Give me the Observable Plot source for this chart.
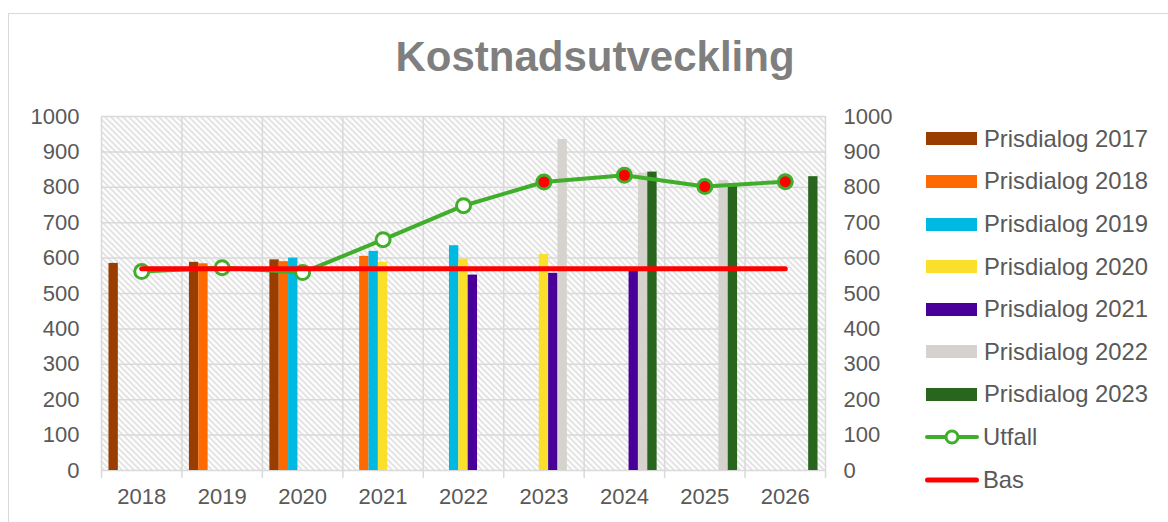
<!DOCTYPE html>
<html>
<head>
<meta charset="utf-8">
<script src="https://cdn.jsdelivr.net/npm/d3@7"></script>
<script src="https://cdn.jsdelivr.net/npm/@observablehq/plot@0.6"></script>
<style>
  body { margin: 0; background: #fff; font-family: "Liberation Sans", Arial, sans-serif; }
  #wrap { position: relative; width: 1168px; height: 522px; overflow: hidden; background: #fff; }
  #border { position: absolute; left: 8px; top: 13px; width: 1400px; height: 800px; border: 1.5px solid #d9d9d9; box-sizing: border-box; }
  #title { position: absolute; left: 0; top: 36px; width: 1190px; text-align: center; font-weight: bold; font-size: 42px; line-height: 42px; color: #7f7f7f; }
  #chart { position: absolute; left: 0; top: 0; }
  .leg { position: absolute; left: 926px; height: 26px; display: flex; align-items: center; font-size: 23.8px; color: #595959; white-space: nowrap; }
  .leg .sw { width: 51px; height: 13px; margin-right: 7px; }
  .leg svg { margin-right: 4px; }
</style>
</head>
<body>
<div id="wrap">
  <div id="border"></div>
  <div id="title">Kostnadsutveckling</div>
  <div id="chart"></div>
  <div id="legend"></div>
</div>
<script>
// ---- data ----
const years = [2018, 2019, 2020, 2021, 2022, 2023, 2024, 2025, 2026];
const seriesNames = ["Prisdialog 2017", "Prisdialog 2018", "Prisdialog 2019", "Prisdialog 2020",
                     "Prisdialog 2021", "Prisdialog 2022", "Prisdialog 2023"];
const seriesColors = ["#993d00", "#ff6a00", "#00b9e2", "#fbe02b", "#480099", "#d6d2cd", "#28661e"];
const p2017 = [585, 588, 595, null, null, null, null, null, null];
const p2018 = [null, 584, 590, 605, null, null, null, null, null];
const p2019 = [null, null, 600, 619, 635, null, null, null, null];
const p2020 = [null, null, null, 588, 597, 610, null, null, null];
const p2021 = [null, null, null, null, 552, 557, 565, null, null];
const p2022 = [null, null, null, null, null, 935, 840, 819, null];
const p2023 = [null, null, null, null, null, null, 843, 803, 830];
const prisdialog = [p2017, p2018, p2019, p2020, p2021, p2022, p2023];
const utfall = [562, 573, 559, 652, 748, 815, 834, 802, 816];
const utfallForecast = [false, false, false, false, false, true, true, true, true];
const bas = [570, 570, 570, 570, 570, 570, 570, 570, 570];
const yTicks = [0, 100, 200, 300, 400, 500, 600, 700, 800, 900, 1000];

// ---- derived tables ----
const boundaries = [years[0] - 0.5, ...years.map(y => y + 0.5)];
const nSlots = seriesNames.length;
const outerPad = 0.8;
const step = 1 / (nSlots + 2 * outerPad);
const bars = [];
prisdialog.forEach((vals, i) => vals.forEach((v, j) => {
  if (v != null) bars.push({year: years[j], series: seriesNames[i], slot: i, value: v, color: seriesColors[i]});
}));
const utfallRows = years.map((y, i) => ({year: y, value: utfall[i], forecast: utfallForecast[i]}));
const basRows = years.map((y, i) => ({year: y, value: bas[i]}));

const green = "#41ae2b";
const grid = "#d9d9d9";

const plot = Plot.plot({
  width: 1168,
  height: 522,
  marginLeft: 101,
  marginRight: 343,
  marginTop: 116,
  marginBottom: 52,
  x: {domain: [years[0] - 0.5, years[years.length - 1] + 0.5]},
  y: {domain: [0, 1000]},
  color: {type: "identity"},
  style: {fontFamily: "'Liberation Sans', Arial, sans-serif", fontSize: "22px", color: "#595959", background: "transparent", overflow: "visible"},
  marks: [
    Plot.frame({fill: "url(#hatch)", stroke: "none"}),
    Plot.gridY(yTicks, {stroke: grid, strokeOpacity: 1, strokeWidth: 1.5}),
    Plot.gridX(boundaries, {stroke: grid, strokeOpacity: 1, strokeWidth: 1.5}),
    Plot.axisX(boundaries, {tickSize: 8, tickFormat: () => "", stroke: grid, strokeWidth: 1.5, label: null}),
    Plot.axisX(years, {tickSize: 0, tickPadding: 18, tickFormat: d => String(d), label: null}),
    Plot.axisY(yTicks, {anchor: "left", tickSize: 0, tickPadding: 22, label: null, tickFormat: d => String(d)}),
    Plot.axisY(yTicks, {anchor: "right", tickSize: 0, tickPadding: 18, label: null, tickFormat: d => String(d)}),
    Plot.rectY(bars, {
      x1: d => d.year - 0.5 + (outerPad + d.slot) * step,
      x2: d => d.year - 0.5 + (outerPad + d.slot + 1) * step,
      y1: 0, y2: "value", fill: "color"
    }),
    Plot.line(utfallRows, {x: "year", y: "value", stroke: green, strokeWidth: 4}),
    Plot.dot(utfallRows, {x: "year", y: "value", r: 7, stroke: green, strokeWidth: 3,
      fill: d => d.forecast ? "#ff0000" : "#ffffff"}),
    Plot.line(basRows, {x: "year", y: "value", stroke: "#ff0000", strokeWidth: 5, strokeLinecap: "round"})
  ]
});

d3.select(plot).insert("defs", ":first-child").html(
  `<pattern id="hatch" patternUnits="userSpaceOnUse" width="6" height="6">
     <rect width="6" height="6" fill="#ffffff"/>
     <path d="M-1,-1 L7,7 M-1,5 L1,7 M5,-1 L7,1" stroke="#d4d4d4" stroke-width="1.3"/>
   </pattern>`);
document.getElementById("chart").appendChild(plot);

// ---- legend ----
const legend = document.getElementById("legend");
const rowY0 = 138.8, rowStep = 42.6;
seriesNames.forEach((name, i) => {
  const row = document.createElement("div");
  row.className = "leg";
  row.style.top = (rowY0 + i * rowStep - 13) + "px";
  row.innerHTML = `<div class="sw" style="background:${seriesColors[i]}"></div><span>${name}</span>`;
  legend.appendChild(row);
});
const extra = [
  {name: "Utfall", svg: `<svg width="54" height="20"><line x1="2" y1="10" x2="52" y2="10" stroke="${green}" stroke-width="4" stroke-linecap="round"/><circle cx="27" cy="10" r="6" fill="#fff" stroke="${green}" stroke-width="3"/></svg>`},
  {name: "Bas", svg: `<svg width="54" height="20"><line x1="2.5" y1="10" x2="51.5" y2="10" stroke="#ff0000" stroke-width="5" stroke-linecap="round"/></svg>`}
];
extra.forEach((e, k) => {
  const row = document.createElement("div");
  row.className = "leg";
  row.style.top = (rowY0 + (nSlots + k) * rowStep - 13) + "px";
  row.style.left = "925px";
  row.innerHTML = e.svg + `<span>${e.name}</span>`;
  legend.appendChild(row);
});
</script>
</body>
</html>
